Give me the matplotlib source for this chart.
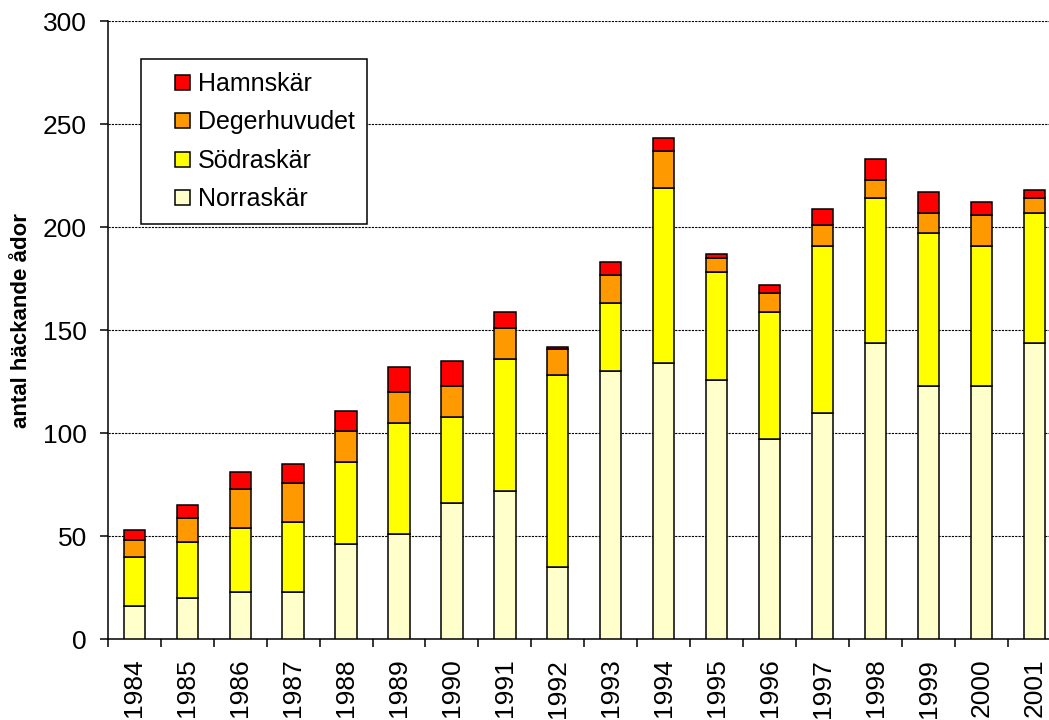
import numpy as np
import matplotlib.pyplot as plt
from matplotlib.patches import Rectangle
from matplotlib.legend_handler import HandlerPatch

plt.rcParams['font.family'] = ['Liberation Sans', 'DejaVu Sans']

years = [str(y) for y in range(1984, 2002)]
norraskar = [16, 20, 23, 23, 46, 51, 66, 72, 35, 130, 134, 126, 97, 110, 144, 123, 123, 144]
sodraskar = [24, 27, 31, 34, 40, 54, 42, 64, 93, 33, 85, 52, 62, 81, 70, 74, 68, 63]
degerhuvudet = [8, 12, 19, 19, 15, 15, 15, 15, 13, 14, 18, 7, 9, 10, 9, 10, 15, 7]
hamnskar = [5, 6, 8, 9, 10, 12, 12, 8, 1, 6, 6, 2, 4, 8, 10, 10, 6, 4]

series = [
    ('Norraskär', norraskar, '#FFFFCC'),
    ('Södraskär', sodraskar, '#FFFF00'),
    ('Degerhuvudet', degerhuvudet, '#FF9900'),
    ('Hamnskär', hamnskar, '#FF0000'),
]


# small square at the right end of the handle box, like the Excel legend keys
class SquareHandler(HandlerPatch):
    def create_artists(self, legend, orig_handle, xdescent, ydescent,
                       width, height, fontsize, trans):
        s = 0.6 * fontsize
        x0 = -xdescent + width - s
        y0 = -ydescent + (height - s) / 2
        p = Rectangle((x0, y0), s, s, facecolor=orig_handle.get_facecolor(),
                      edgecolor='black', linewidth=1.1, transform=trans)
        return [p]


fig = plt.figure(figsize=(10.49, 7.2), dpi=100)
ax = fig.add_axes([0.1027, 0.1121, 0.9087, 0.8587])

x = np.arange(len(years))
bottom = np.zeros(len(years))
proxies = []
for name, vals, col in series:
    ax.bar(x, vals, 0.4, bottom=bottom, color=col, edgecolor='black',
           linewidth=1.1, label=name, zorder=3)
    proxies.append(Rectangle((0, 0), 1, 1, facecolor=col))
    bottom += np.array(vals)

ax.set_xlim(-0.5, 17.5)
ax.set_ylim(0, 300)
ax.set_yticks(range(0, 301, 50))
ax.yaxis.grid(True, color='black', linestyle=(0, (2, 1)), linewidth=0.8, zorder=0)

ax.set_xticks(x)
ax.set_xticklabels(years, rotation=90)
ax.tick_params(axis='x', which='major', length=0, pad=14, labelsize=19)
ax.set_xticks(np.arange(-0.5, 18, 1), minor=True)
ax.tick_params(axis='x', which='minor', length=6, width=1.1, direction='out')
ax.tick_params(axis='y', length=6, width=1.1, direction='out', pad=9, labelsize=19)

for s in ['top', 'right']:
    ax.spines[s].set_visible(False)
for s in ['left', 'bottom']:
    ax.spines[s].set_linewidth(1.1)

ax.set_ylabel('antal häckande ådor', fontsize=16, fontweight='bold')
ax.yaxis.set_label_coords(-0.0795, 0.516)

leg = ax.legend(proxies[::-1], [s[0] for s in series][::-1], loc='upper left',
                bbox_to_anchor=(0.035, 0.938), fontsize=18, frameon=True,
                fancybox=False, framealpha=1, handlelength=1.46,
                handletextpad=0.32, labelspacing=0.58, borderpad=0.5,
                borderaxespad=0, handler_map={Rectangle: SquareHandler()})
leg.get_frame().set_edgecolor('black')
leg.get_frame().set_linewidth(1.1)
leg.set_zorder(5)

plt.savefig('out.png', dpi=100)
